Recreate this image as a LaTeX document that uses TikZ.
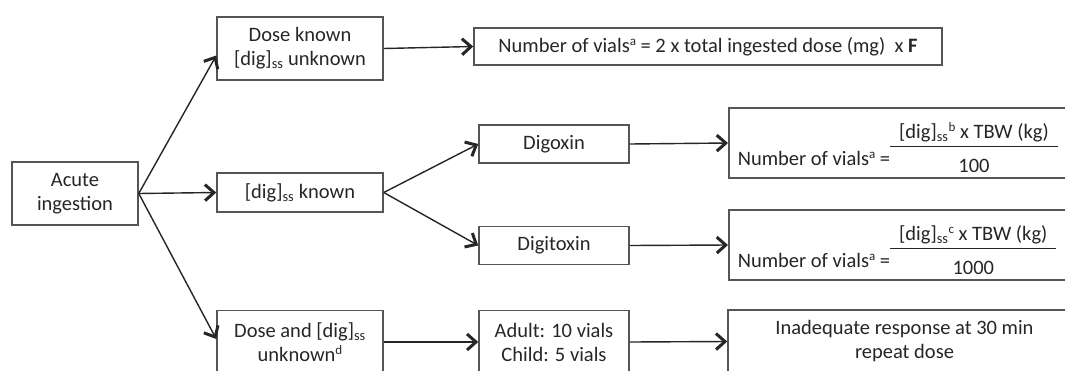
\documentclass[tikz,border=0pt]{standalone}
\usepackage{fontspec}
\setmainfont{Carlito}
\usetikzlibrary{arrows.meta,positioning}
\definecolor{dgtext}{RGB}{38,38,38}
\definecolor{dgline}{RGB}{85,85,85}
\newcommand{\digss}{[dig]\textsubscript{ss}}
\newcommand{\dgsup}[1]{\raisebox{7pt}{\fontsize{13}{13}\selectfont #1}}
\newcommand{\vialfrac}[2]{\raisebox{-7pt}{\setlength{\arrayrulewidth}{1.4pt}%
  \begin{tabular}[b]{@{\hspace{9pt}}c@{\hspace{9pt}}}#1\\\hline\rule{0pt}{25pt}#2\end{tabular}}}

\begin{document}
\begin{tikzpicture}[x=1pt,y=-1pt,
  dgbox/.style={draw=dgline,line width=1.5pt,text=dgtext,inner sep=0pt,
    align=center,font=\fontsize{20.5}{24}\selectfont},
  dgformula/.style={dgbox,anchor=west,align=left,inner xsep=9pt,inner ysep=7pt,
    text height=50pt,text depth=6pt},
  dgarrow/.style={-{Straight Barb[length=9pt,width=16pt,line width=3pt]},
    line width=1.4pt,draw=dgtext}
]
  \fill[white] (0,0) rectangle (1065,370);
  \useasboundingbox (0,0) rectangle (1065,370);
  \clip (0,0) rectangle (1065,370);
  % Left column
  \node[dgbox,minimum width=126pt,minimum height=63pt] (acute) at (75,193.5) {Acute\\ingestion};
  % Middle column
  \node[dgbox,minimum width=166pt,minimum height=63pt] (dosek) at (300,48.5) {Dose known\\\digss{} unknown};
  \node[dgbox,minimum width=166pt,minimum height=39pt] (digk) at (300,192.5) {\digss{} known};
  \node[dgbox,minimum width=166pt,minimum height=63pt] (dun) at (300,342) {Dose and \digss\\unknown\dgsup{d}};
  % Glycoside boxes
  \node[dgbox,minimum width=150pt,minimum height=38pt] (digoxin) at (554,144) {Digoxin};
  \node[dgbox,minimum width=150pt,minimum height=38pt] (digitoxin) at (554,245.5) {Digitoxin};
  \node[dgbox,minimum width=150pt,minimum height=63pt] (adult) at (554,342) {Adult: 10 vials\\Child: 5 vials};
  % Dose formulas
  \node[dgbox,minimum width=468pt,minimum height=37pt] (vialsdose) at (708,46.5)
    {Number of vials\dgsup{a} = 2 x total ingested dose (mg)\ \ x \textbf{F}};
  \node[dgformula] (vialsdgx) at (728,143)
    {Number of vials\dgsup{a} =\vialfrac{\digss\dgsup{b} x TBW (kg)}{100}};
  \node[dgformula] (vialsdtx) at (728,245)
    {Number of vials\dgsup{a} =\vialfrac{\digss\dgsup{c} x TBW (kg)}{1000}};
  \node[dgbox,minimum width=353pt,minimum height=63pt] (repeat) at (904.5,341.5)
    {Inadequate response at 30 min\\repeat dose};
  % Arrows
  \draw[dgarrow] (acute.east) -- ([yshift=-7pt]dosek.west);
  \draw[dgarrow] (acute.east) -- (digk.west);
  \draw[dgarrow] (acute.east) -- ([yshift=3pt]dun.west);
  \draw[dgarrow] (dosek.east) -- (vialsdose.west);
  \draw[dgarrow] (digk.east) -- (digoxin.west);
  \draw[dgarrow] (digk.east) -- (digitoxin.west);
  \draw[dgarrow] (digoxin.east) -- (vialsdgx.west);
  \draw[dgarrow] (digitoxin.east) -- (vialsdtx.west);
  \draw[dgarrow] (dun.east) -- (adult.west);
  \draw[dgarrow] (adult.east) -- (repeat.west);
\end{tikzpicture}
\end{document}
